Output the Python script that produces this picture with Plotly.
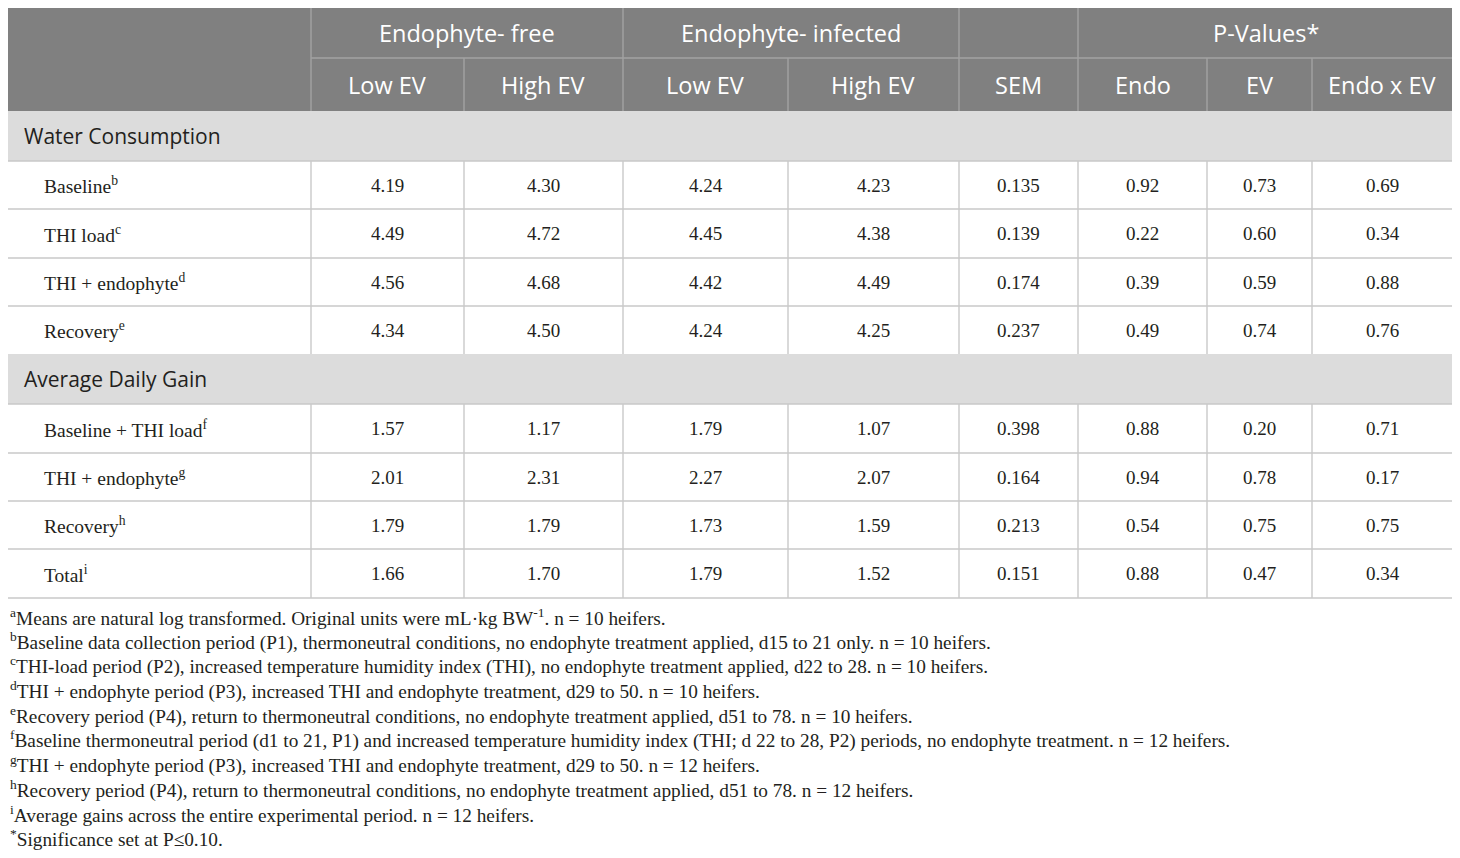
import plotly.graph_objs as go

# ---- table content ----
group_heads = ["Endophyte- free", "Endophyte- infected", "", "P-Values*"]
group_span = [2, 2, 1, 3]
sub_heads = ["Low EV", "High EV", "Low EV", "High EV", "SEM", "Endo", "EV", "Endo x EV"]

sections = ["Water Consumption", "Average Daily Gain"]

water_labels = ["Baseline", "THI load", "THI + endophyte", "Recovery"]
water_marks = ["b", "c", "d", "e"]
water_ef_low = [4.19, 4.49, 4.56, 4.34]
water_ef_high = [4.30, 4.72, 4.68, 4.50]
water_ei_low = [4.24, 4.45, 4.42, 4.24]
water_ei_high = [4.23, 4.38, 4.49, 4.25]
water_sem = [0.135, 0.139, 0.174, 0.237]
water_p_endo = [0.92, 0.22, 0.39, 0.49]
water_p_ev = [0.73, 0.60, 0.59, 0.74]
water_p_int = [0.69, 0.34, 0.88, 0.76]

adg_labels = ["Baseline + THI load", "THI + endophyte", "Recovery", "Total"]
adg_marks = ["f", "g", "h", "i"]
adg_ef_low = [1.57, 2.01, 1.79, 1.66]
adg_ef_high = [1.17, 2.31, 1.79, 1.70]
adg_ei_low = [1.79, 2.27, 1.73, 1.79]
adg_ei_high = [1.07, 2.07, 1.59, 1.52]
adg_sem = [0.398, 0.164, 0.213, 0.151]
adg_p_endo = [0.88, 0.94, 0.54, 0.88]
adg_p_ev = [0.20, 0.78, 0.75, 0.47]
adg_p_int = [0.71, 0.17, 0.75, 0.34]

footnote_marks = ["a", "b", "c", "d", "e", "f", "g", "h", "i", "*"]
footnotes = [
    "Means are natural log transformed. Original units were mL\u00b7kg BW<sup>-1</sup>. n = 10 heifers.",
    "Baseline data collection period (P1), thermoneutral conditions, no endophyte treatment applied, d15 to 21 only. n = 10 heifers.",
    "THI-load period (P2), increased temperature humidity index (THI), no endophyte treatment applied, d22 to 28. n = 10 heifers.",
    "THI + endophyte period (P3), increased THI and endophyte treatment, d29 to 50. n = 10 heifers.",
    "Recovery period (P4), return to thermoneutral conditions, no endophyte treatment applied, d51 to 78. n = 10 heifers.",
    "Baseline thermoneutral period (d1 to 21, P1) and increased temperature humidity index (THI; d 22 to 28, P2) periods, no endophyte treatment. n = 12 heifers.",
    "THI + endophyte period (P3), increased THI and endophyte treatment, d29 to 50. n = 12 heifers.",
    "Recovery period (P4), return to thermoneutral conditions, no endophyte treatment applied, d51 to 78. n = 12 heifers.",
    "Average gains across the entire experimental period. n = 12 heifers.",
    "Significance set at P\u22640.10.",
]

# ---- layout geometry (page pixels) ----
W, H = 1460, 858
OFF = 8  # page body margin, so data units match page pixels
col_x = [7, 311, 464, 623, 788, 959, 1078, 1207, 1312, 1453]
row_y = [8, 58, 111, 161, 209, 258, 306, 354, 404, 453, 501, 549, 598]
HEAD_FILL = "#808080"
HEAD_LINE = "#a3a3a3"
SEC_FILL = "#dcdcdc"
GRID = "#c9c9c9"
TXT = "#231f20"
SANS = "Open Sans"
SERIF = "Liberation Serif"

shapes = []
ann = []


def rect(x0, y0, x1, y1, fill):
    shapes.append(dict(type="rect", xref="x", yref="y", x0=x0, y0=y0, x1=x1, y1=y1,
                       fillcolor=fill, line=dict(width=0), layer="below"))


def line(x0, y0, x1, y1, color, w=1.4):
    shapes.append(dict(type="line", xref="x", yref="y", x0=x0, y0=y0, x1=x1, y1=y1,
                       line=dict(color=color, width=w)))


def text(x, y, s, size, font, color=TXT, anchor="center"):
    ann.append(dict(x=x, y=y, xref="x", yref="y", text=s, showarrow=False,
                    xanchor=anchor, yanchor="middle",
                    font=dict(family=font, size=size, color=color)))


def mid(a, b):
    return (a + b) / 2


# header block
rect(col_x[0], row_y[0], col_x[-1], row_y[2], HEAD_FILL)
line(col_x[1], row_y[1], col_x[-1], row_y[1], HEAD_LINE)
ci = 1
for g, span in zip(group_heads, group_span):
    x0, x1 = col_x[ci], col_x[ci + span]
    if g:
        text(mid(x0, x1), mid(row_y[0], row_y[1]), g, 23.5, SANS, "white")
    line(x0, row_y[0], x0, row_y[1], HEAD_LINE)
    ci += span
for i, s in enumerate(sub_heads):
    text(mid(col_x[i + 1], col_x[i + 2]), mid(row_y[1], row_y[2]), s, 23.5, SANS, "white")
    line(col_x[i + 1], row_y[1], col_x[i + 1], row_y[2], HEAD_LINE)

# body
blocks = [
    (sections[0], water_labels, water_marks,
     [water_ef_low, water_ef_high, water_ei_low, water_ei_high, water_sem,
      water_p_endo, water_p_ev, water_p_int]),
    (sections[1], adg_labels, adg_marks,
     [adg_ef_low, adg_ef_high, adg_ei_low, adg_ei_high, adg_sem,
      adg_p_endo, adg_p_ev, adg_p_int]),
]
r = 2
for title, labels, marks, cols in blocks:
    y0, y1 = row_y[r], row_y[r + 1]
    rect(col_x[0], y0, col_x[-1], y1, SEC_FILL)
    text(22, mid(y0, y1), title, 21, SANS, anchor="left")
    r += 1
    for k, lab in enumerate(labels):
        y0, y1 = row_y[r], row_y[r + 1]
        text(42, mid(y0, y1), lab + "<sup>" + marks[k] + "</sup>", 19.5, SERIF, anchor="left")
        for j, vals in enumerate(cols):
            fmt = "{:.3f}" if j == 4 else "{:.2f}"
            text(mid(col_x[j + 1], col_x[j + 2]), mid(y0, y1), fmt.format(vals[k]), 19, SERIF)
        for x in col_x:
            line(x, y0, x, y1, GRID)
        line(col_x[0], y0, col_x[-1], y0, GRID)
        r += 1
line(col_x[0], row_y[-1], col_x[-1], row_y[-1], GRID)
for x in (col_x[0], col_x[-1]):
    line(x, row_y[2], x, row_y[-1], GRID)

# footnotes
for i, (m, f) in enumerate(zip(footnote_marks, footnotes)):
    text(8, 616.5 + 24.65 * i, "<sup>" + m + "</sup>" + f, 19.3, SERIF, anchor="left")

fig = go.Figure()
fig.update_layout(
    width=W, height=H,
    margin=dict(l=0, r=0, t=0, b=0),
    paper_bgcolor="white", plot_bgcolor="white",
    xaxis=dict(range=[OFF, W + OFF], visible=False, fixedrange=True),
    yaxis=dict(range=[H + OFF, OFF], visible=False, fixedrange=True),
    shapes=shapes, annotations=ann, showlegend=False,
)
fig.write_html("out.html")
